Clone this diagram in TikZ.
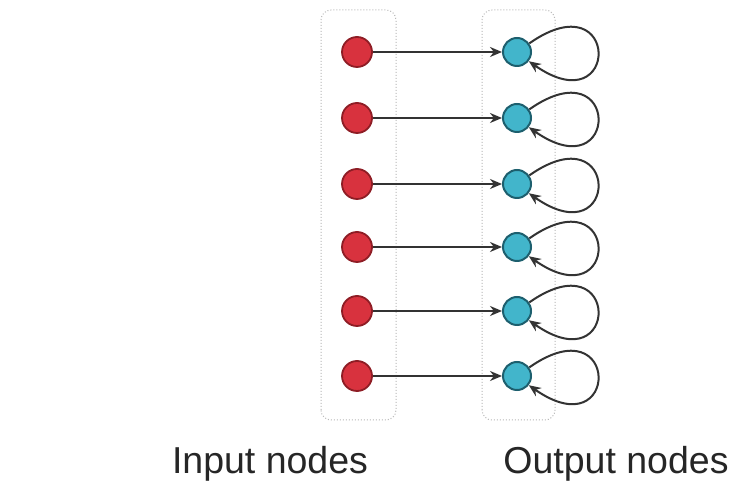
\documentclass[tikz,border=0pt]{standalone}
\usepackage{fontspec}
\setmainfont{Liberation Sans}
\usetikzlibrary{arrows.meta}
\definecolor{inred}{HTML}{D8323E}
\definecolor{inredline}{HTML}{8E1D25}
\definecolor{outcyan}{HTML}{42B5CB}
\definecolor{outcyanline}{HTML}{1D5F6E}
\definecolor{wire}{HTML}{333333}
\definecolor{groupline}{HTML}{B8B8B8}
\begin{document}
\begin{tikzpicture}[x=1pt,y=1pt,
  innode/.style={circle,fill=inred,draw=inredline,line width=1.8pt,minimum size=30pt,inner sep=0pt},
  outnode/.style={circle,fill=outcyan,draw=outcyanline,line width=2pt,minimum size=28pt,inner sep=0pt},
  link/.style={draw=wire,line width=2pt,-{Stealth[length=12pt,width=10pt]}},
  selfloop/.style={draw=wire,line width=2pt,-{Stealth[length=12pt,width=10pt]}},
  groupbox/.style={draw=groupline,dotted,line width=1pt,rounded corners=10pt},
  caption/.style={font=\fontsize{37.5}{40}\selectfont,text=black!85,inner sep=0pt}]
\useasboundingbox (0,0) rectangle (735,494);
\fill[white] (0,0) rectangle (735,494);
% layer groups
\draw[groupbox] (321,74) rectangle (396,484);
\draw[groupbox] (482,74) rectangle (555,484);
% neurons, one row per unit
\foreach \k/\y in {1/442,2/376,3/310,4/247,5/183,6/118}{
  \node[innode] (i\k) at (357,\y) {};
  \node[outnode] (o\k) at (517,\y) {};
  \draw[link] (i\k) -- (o\k);
  \draw[selfloop] (o\k.35) to[out=35,in=-35,distance=112pt] (o\k.-38);
}
\node[caption] (inlabel) at (270,30) {Input nodes};
\node[caption] (outlabel) at (616,30) {Output nodes};
\end{tikzpicture}
\end{document}
